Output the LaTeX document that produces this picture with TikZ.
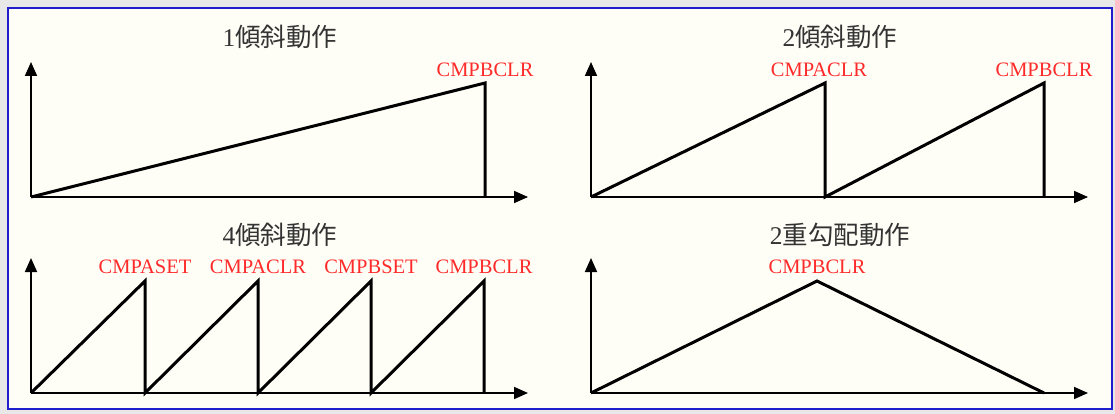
\documentclass[tikz,border=0pt]{standalone}
\usepackage{fontspec}
\setmainfont{Liberation Serif}
\newfontfamily\cjk{Noto Sans CJK JP}
\usetikzlibrary{arrows.meta,positioning}
\definecolor{wfFrame}{HTML}{1E1ECC}
\definecolor{wfPaper}{HTML}{FEFEF6}
\definecolor{wfPage}{HTML}{E8E8E8}
\definecolor{wfRed}{HTML}{FF2A2A}
\definecolor{wfTitle}{HTML}{333333}
\tikzset{
  axis/.style={draw=black, line width=1.7pt, -{Triangle[length=14pt,width=12pt]}},
  wave/.style={draw=black, line width=3pt, line join=miter},
  cmplabel/.style={text=wfRed, font=\fontsize{20.5}{22}\selectfont,
                   anchor=base, inner sep=0pt, yshift=6pt},
  wftitle/.style={text=wfTitle, font=\fontsize{25.5}{28}\selectfont, inner sep=0pt},
}
\newcommand{\modename}[2]{#1{\cjk #2}}

\begin{document}
\begin{tikzpicture}[x=1pt, y=-1pt]

% ---- page and frame
\useasboundingbox (0,0) rectangle (1115,414);
\fill[wfPage] (0,0) rectangle (1115,414);
\draw[wfFrame, line width=2.5pt, fill=wfPaper] (8,8) rectangle (1112,409);

% ---- single slope
\begin{scope}[shift={(31,197)}]
  \coordinate (O1) at (0,0);
  \coordinate (Y1) at (0,-135);
  \coordinate (X1) at (497,0);
  \coordinate (A1) at (454,-114);
  \draw[axis] (O1) -- (Y1);
  \draw[axis] (O1) -- (X1);
  \draw[wave] (O1) -- (A1) -- (A1 |- O1);
  \node[cmplabel] (L1) at (A1) {CMPBCLR};
  \node[wftitle] (T1) at (249,-160) {\modename{1}{傾斜動作}};
\end{scope}

% ---- two slopes
\begin{scope}[shift={(591,197)}]
  \coordinate (O2) at (0,0);
  \coordinate (Y2) at (0,-135);
  \coordinate (X2) at (497,0);
  \coordinate (A2) at (234,-114);
  \coordinate (B2) at (453,-114);
  \draw[axis] (O2) -- (Y2);
  \draw[axis] (O2) -- (X2);
  \draw[wave] (O2) -- (A2) -- (A2 |- O2) -- (B2) -- (B2 |- O2);
  \node[cmplabel, xshift=-6pt] (L2a) at (A2) {CMPACLR};
  \node[cmplabel] (L2b) at (B2) {CMPBCLR};
  \node[wftitle] (T2) at (249,-160) {\modename{2}{傾斜動作}};
\end{scope}

% ---- four slopes
\begin{scope}[shift={(31,393)}]
  \coordinate (O3) at (0,0);
  \coordinate (Y3) at (0,-135);
  \coordinate (X3) at (497,0);
  \coordinate (A3) at (114,-112);
  \coordinate (B3) at (227,-112);
  \coordinate (C3) at (340,-112);
  \coordinate (D3) at (453,-112);
  \draw[axis] (O3) -- (Y3);
  \draw[axis] (O3) -- (X3);
  \draw[wave] (O3) -- (A3) -- (A3 |- O3) -- (B3) -- (B3 |- O3)
              -- (C3) -- (C3 |- O3) -- (D3) -- (D3 |- O3);
  \node[cmplabel, yshift=2pt] (L3a) at (A3) {CMPASET};
  \node[cmplabel, yshift=2pt] (L3b) at (B3) {CMPACLR};
  \node[cmplabel, yshift=2pt] (L3c) at (C3) {CMPBSET};
  \node[cmplabel, yshift=2pt] (L3d) at (D3) {CMPBCLR};
  \node[wftitle] (T3) at (249,-158) {\modename{4}{傾斜動作}};
\end{scope}

% ---- double gradient
\begin{scope}[shift={(591,393)}]
  \coordinate (O4) at (0,0);
  \coordinate (Y4) at (0,-135);
  \coordinate (X4) at (497,0);
  \coordinate (A4) at (226,-112);
  \coordinate (E4) at (453,0);
  \draw[axis] (O4) -- (Y4);
  \draw[axis] (O4) -- (X4);
  \draw[wave] (O4) -- (A4) -- (E4);
  \node[cmplabel, yshift=2pt] (L4) at (A4) {CMPBCLR};
  \node[wftitle] (T4) at (249,-158) {\modename{2}{重勾配動作}};
\end{scope}

\end{tikzpicture}
\end{document}
